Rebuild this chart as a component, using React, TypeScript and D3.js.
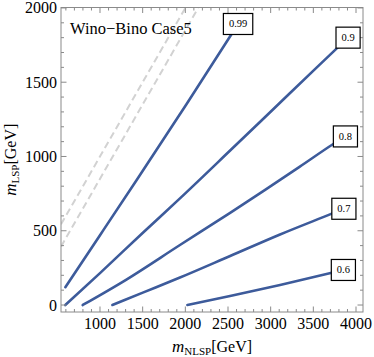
import React, { useEffect, useRef } from 'react';
import * as d3 from 'd3';

// contour levels and their lines (mNLSP, mLSP in GeV)
const contourLevels = ['0.99', '0.9', '0.8', '0.7', '0.6'];
const contour099 = [[594, 120], [1000, 470], [1430, 842], [2017, 1355], [2618, 1892]];
const contour090 = [[594, 0], [1000, 215], [1509, 490], [1937, 718], [2525, 1040], [3033, 1320], [3541, 1600], [3907, 1800]];
const contour080 = [[797, 0], [1305, 170], [1937, 404], [2525, 620], [2935, 775], [3338, 930], [3734, 1084], [3876, 1135]];
const contour070 = [[1145, 0], [1509, 85], [1937, 185], [2525, 330], [3110, 475], [3716, 615], [3858, 648]];
const contour060 = [[2024, 0], [2524, 61], [3110, 135], [3716, 217], [3852, 236]];
const contours = [contour099, contour090, contour080, contour070, contour060];

// grey dashed guides
const guideSame = [[543, 543], [2000, 2000]];
const guideOffset = [[543, 393], [2150, 2000]];

const xTickValues = [1000, 1500, 2000, 2500, 3000, 3500, 4000];
const yTickValues = [0, 500, 1000, 1500, 2000];
const xMinorValues = d3.range(600, 4001, 100);
const yMinorValues = d3.range(0, 2001, 100);
const titleText = 'Wino\u2212Bino Case5';

const width = 374;
const height = 357;
const left = 61, right = 363, top = 7.5, bottom = 312;
const serif = 'Liberation Serif';
const blue = '#3d5b9b';
const frameColor = '#8a8a8a';

export default function App() {
    const ref = useRef<SVGSVGElement>(null);

    useEffect(() => {
        document.body.style.margin = '0';
        const svg = d3.select(ref.current);
        svg.selectAll('*').remove();

        const x = d3.scaleLinear().domain([543, 4082]).range([left, right]);
        const y = d3.scaleLinear().domain([-47, 2003]).range([bottom, top]);

        svg.append('defs').append('clipPath').attr('id', 'plot-clip')
            .append('rect')
            .attr('x', left).attr('y', top)
            .attr('width', right - left).attr('height', bottom - top);

        const line = d3.line<number[]>().x(d => x(d[0])).y(d => y(d[1]));

        const plot = svg.append('g').attr('clip-path', 'url(#plot-clip)');

        plot.selectAll('.guide')
            .data([guideSame, guideOffset])
            .enter().append('path')
            .attr('class', 'guide')
            .attr('d', line)
            .attr('fill', 'none')
            .attr('stroke', '#d2d2d2')
            .attr('stroke-width', 2)
            .attr('stroke-dasharray', '7,4');

        plot.selectAll('.contour')
            .data(contours)
            .enter().append('path')
            .attr('class', 'contour')
            .attr('d', d3.line<number[]>().curve(d3.curveMonotoneX).x(d => x(d[0])).y(d => y(d[1])))
            .attr('fill', 'none')
            .attr('stroke', blue)
            .attr('stroke-width', 2.6)
            .attr('stroke-linecap', 'round');

        // frame
        svg.append('rect')
            .attr('x', left).attr('y', top)
            .attr('width', right - left).attr('height', bottom - top)
            .attr('fill', 'none')
            .attr('stroke', frameColor)
            .attr('stroke-width', 1);

        const ticks = svg.append('g').attr('stroke', frameColor).attr('stroke-width', 1);
        const xMinor = xMinorValues.filter(v => v % 500 !== 0);
        const yMinor = yMinorValues.filter(v => v % 500 !== 0);

        [bottom, top].forEach(edge => {
            const dir = edge === bottom ? -1 : 1;
            xTickValues.forEach(v => ticks.append('line')
                .attr('x1', x(v)).attr('x2', x(v))
                .attr('y1', edge).attr('y2', edge + dir * 5.5));
            xMinor.forEach(v => ticks.append('line')
                .attr('x1', x(v)).attr('x2', x(v))
                .attr('y1', edge).attr('y2', edge + dir * 3));
        });
        [left, right].forEach(edge => {
            const dir = edge === left ? 1 : -1;
            yTickValues.forEach(v => ticks.append('line')
                .attr('y1', y(v)).attr('y2', y(v))
                .attr('x1', edge).attr('x2', edge + dir * 5.5));
            yMinor.forEach(v => ticks.append('line')
                .attr('y1', y(v)).attr('y2', y(v))
                .attr('x1', edge).attr('x2', edge + dir * 3));
        });

        svg.selectAll('.xtick')
            .data(xTickValues)
            .enter().append('text')
            .attr('class', 'xtick')
            .attr('x', d => x(d))
            .attr('y', bottom + 17)
            .attr('text-anchor', 'middle')
            .attr('font-family', serif)
            .attr('font-size', 16)
            .text(d => d);

        svg.selectAll('.ytick')
            .data(yTickValues)
            .enter().append('text')
            .attr('class', 'ytick')
            .attr('x', left - 4)
            .attr('y', d => y(d) + 5.5)
            .attr('text-anchor', 'end')
            .attr('font-family', serif)
            .attr('font-size', 16)
            .text(d => d);

        // contour labels, boxed, centred on the end of each line
        contours.forEach((c, i) => {
            const last = c[c.length - 1];
            const g = svg.append('g')
                .attr('transform', 'translate(' + x(last[0]) + ',' + y(last[1]) + ')');
            const rect = g.append('rect');
            const t = g.append('text')
                .attr('text-anchor', 'middle')
                .attr('y', 3.5)
                .attr('font-family', serif)
                .attr('font-size', 10.5)
                .text(contourLevels[i]);
            const w = (t.node() as SVGTextElement).getComputedTextLength() + 11;
            rect.attr('x', -w / 2).attr('y', -10.5)
                .attr('width', w).attr('height', 21)
                .attr('fill', 'white')
                .attr('stroke', 'black')
                .attr('stroke-width', 1.2);
        });

        svg.append('text')
            .attr('x', 70)
            .attr('y', 34)
            .attr('font-family', serif)
            .attr('font-size', 16.5)
            .text(titleText);

        const xLabel = svg.append('text')
            .attr('x', (left + right) / 2)
            .attr('y', 352)
            .attr('text-anchor', 'middle')
            .attr('font-family', serif)
            .attr('font-size', 16);
        xLabel.append('tspan').attr('font-style', 'italic').attr('font-size', 17).text('m');
        xLabel.append('tspan').attr('font-size', 11).attr('dy', 3).text('NLSP');
        xLabel.append('tspan').attr('dy', -3).text('[GeV]');

        const yLabel = svg.append('text')
            .attr('transform', 'translate(16,' + (top + bottom) / 2 + ') rotate(-90)')
            .attr('text-anchor', 'middle')
            .attr('font-family', serif)
            .attr('font-size', 16);
        yLabel.append('tspan').attr('font-style', 'italic').attr('font-size', 17).text('m');
        yLabel.append('tspan').attr('font-size', 11).attr('dy', 3).text('LSP');
        yLabel.append('tspan').attr('dy', -3).text('[GeV]');
    }, []);

    return (
        <svg ref={ref} width={width} height={height}
             style={{ display: 'block', background: 'white' }} />
    );
}
